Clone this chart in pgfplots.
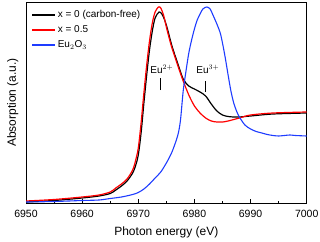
\documentclass[border=0pt]{standalone}
\usepackage{fontspec}
\setmainfont{Liberation Sans}
\usepackage{pgfplots}
\pgfplotsset{compat=1.18}
\definecolor{myblue}{RGB}{30,60,255}
\definecolor{myred}{RGB}{255,0,0}
\begin{document}
\begin{tikzpicture}
\begin{axis}[
  scale only axis,
  width=280.7pt, height=201pt,
  xmin=6950, xmax=7000, ymin=0, ymax=201,
  xtick={6950,6960,6970,6980,6990,7000},
  minor x tick num=1,
  ytick=\empty,
  xtick pos=bottom,
  tick align=inside,
  major tick length=4pt, minor tick length=2.5pt,
  axis line style={line width=0.9pt},
  every tick/.style={line width=0.7pt, black},
  scaled x ticks=false,
  /pgf/number format/1000 sep={},
  /pgf/number format/assume math mode=true,
  ticklabel style={font=\fontsize{10.5}{12}\selectfont},
  xticklabel style={yshift=-4pt},
  xlabel={Photon energy (eV)},
  ylabel={Absorption (a.u.)},
  label style={font=\fontsize{12}{14}\selectfont},
  xlabel style={at={(axis description cs:0.5,0)}, anchor=north, yshift=-20pt},
  ylabel style={yshift=4pt},
  legend style={draw=none, fill=none, at={(0,1)}, anchor=north west,
    font=\fontsize{10}{12}\selectfont, xshift=2pt, yshift=-4.5pt,
    row sep=2.3pt},
  legend cell align=left,
  legend image code/.code={\draw[#1, line width=1.6pt] (0pt,0pt) -- (23pt,0pt);},
]
\addplot[black, line width=1.2pt, smooth, forget plot] coordinates {
(6950,1) (6955,2.5) (6960,5) (6963,7) (6965,9.5) (6966,13) (6967,17) (6968,22)
(6969,30) (6969.5,37) (6970,48) (6970.5,70) (6971,100) (6971.5,128) (6972,153)
(6972.5,172) (6973,185) (6973.7,191) (6974.2,189) (6974.7,183) (6975.2,174)
(6976,157) (6977,140) (6978,124) (6979,117) (6980,114) (6981,111) (6982,107)
(6983,99) (6984,92) (6985,88) (6986,86.5) (6987,86) (6988,86) (6990,87)
(6994,89) (7000,90)};
\addplot[myred, line width=1.2pt, smooth, forget plot] coordinates {
(6950,2) (6955,3.5) (6960,6) (6963,8) (6965,11) (6966,15) (6967,19) (6968,24)
(6969,33) (6969.5,42) (6970,55) (6970.5,80) (6971,110) (6971.5,138) (6972,162)
(6972.5,180) (6973,191) (6973.6,196) (6974,195) (6974.5,188) (6975,176)
(6975.5,165) (6976,155) (6977,138) (6978,122) (6979,108) (6980,97) (6981,90)
(6982,85) (6983,82) (6984,81) (6985,81) (6986,82) (6988,85) (6990,88)
(6994,90) (7000,91)};
\addplot[myblue, line width=1.1pt, smooth, forget plot] coordinates {
(6950,1) (6955,1.5) (6960,2.5) (6963,3) (6965,4.5) (6967,6) (6969,8.5)
(6970,10.5) (6971,14) (6972,19) (6973,25) (6974,31) (6975,40) (6976,51)
(6977,67) (6977.5,82) (6978,112) (6978.5,132) (6979,150) (6979.5,163)
(6980,174) (6980.5,183) (6981,189) (6981.5,194) (6982.2,196) (6982.8,194)
(6983.3,188) (6984,179) (6984.6,170) (6985,160) (6985.5,145) (6986,128)
(6986.5,112) (6987,100) (6987.5,92) (6988,86) (6989,78) (6990,74)
(6991,71.5) (6992,70) (6993,68.5) (6994,67.5) (6995,67) (6996,67.5)
(6997,68) (6998,67.5) (7000,67)};
\addlegendimage{black}
\addlegendentry{x = 0 (carbon-free)}
\addlegendimage{myred}
\addlegendentry{x = 0.5}
\addlegendimage{myblue}
\addlegendentry{Eu$_2$O$_3$}
\addplot[black, line width=0.8pt, forget plot] coordinates {(6973.87,113) (6973.87,125)};
\addplot[black, line width=0.8pt, forget plot] coordinates {(6981.9,111) (6981.9,122)};
\node[font=\fontsize{10}{12}\selectfont] at (axis cs:6974.2,134) {Eu$^{2+}$};
\node[font=\fontsize{10}{12}\selectfont] at (axis cs:6982.4,134) {Eu$^{3+}$};
\end{axis}
\pgfresetboundingbox
\path ([shift={(-26pt,-38pt)}]current axis.south west) rectangle ([shift={(13.3pt,2pt)}]current axis.north east);
\end{tikzpicture}
\end{document}
